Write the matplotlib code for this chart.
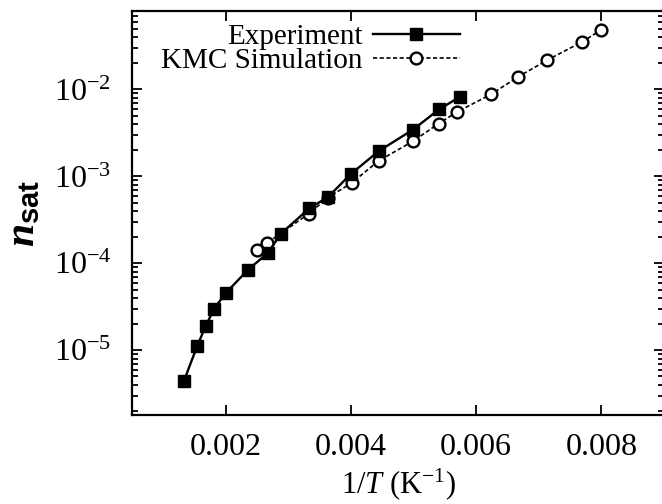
import matplotlib
matplotlib.use("Agg")
import matplotlib.pyplot as plt
from matplotlib.ticker import LogLocator, NullFormatter

# данные: 1/T (1/K) и n_sat
exp_x = [0.001329, 0.001542, 0.001676, 0.001813, 0.002000, 0.002356, 0.002676,
         0.002874, 0.003331, 0.003634, 0.003992, 0.004444, 0.004992, 0.005403, 0.005735]
exp_y = [4.43e-6, 1.12e-5, 1.89e-5, 3.02e-5, 4.56e-5, 8.49e-5, 1.32e-4,
         2.18e-4, 4.28e-4, 5.81e-4, 1.06e-3, 1.96e-3, 3.46e-3, 5.89e-3, 8.2e-3]

kmc_x = [0.002495, 0.00266, 0.00333, 0.00363, 0.00401, 0.00444, 0.00499,
         0.0054, 0.0057, 0.00624, 0.00667, 0.00713, 0.00769, 0.00799]
kmc_y = [1.42e-4, 1.72e-4, 3.74e-4, 5.72e-4, 8.41e-4, 1.51e-3, 2.54e-3,
         4.06e-3, 5.55e-3, 8.83e-3, 1.40e-2, 2.17e-2, 3.53e-2, 4.81e-2]

x_ticks = [0.002, 0.004, 0.006, 0.008]
x_tick_labels = ['0.002', '0.004', '0.006', '0.008']

plt.rcParams['font.family'] = ['Liberation Serif', 'DejaVu Serif']
plt.rcParams['mathtext.fontset'] = 'custom'
plt.rcParams['mathtext.rm'] = 'Liberation Serif'
plt.rcParams['mathtext.it'] = 'Liberation Serif:italic'
plt.rcParams['mathtext.bf'] = 'Liberation Serif:bold'
plt.rcParams['mathtext.bfit'] = 'Liberation Serif:italic:bold'
plt.rcParams['mathtext.sf'] = 'Liberation Sans:bold'

fig = plt.figure(figsize=(6.62, 5.04), dpi=100)
ax = fig.add_axes([132 / 662, 89 / 504, (664 - 132) / 662, (415 - 11) / 504])

ax.plot(kmc_x, kmc_y, linestyle=(0, (2.5, 1.5)), color='black', linewidth=1.2,
        marker='o', markersize=8.5, markerfacecolor='white', markeredgewidth=1.7,
        markeredgecolor='black', label='KMC Simulation', zorder=2)
ax.plot(exp_x, exp_y, linestyle='-', color='black', linewidth=1.7,
        marker='s', markersize=9, markerfacecolor='black',
        label='Experiment', zorder=3)

ax.set_yscale('log')
ax.set_xlim(0.0005, 0.009)
ax.set_ylim(1.8e-6, 0.08)

ax.set_xticks(x_ticks)
ax.set_xticklabels(x_tick_labels)
ax.yaxis.set_major_locator(LogLocator(base=10, numticks=20))
ax.yaxis.set_minor_locator(LogLocator(base=10, subs=range(2, 10), numticks=20))
ax.yaxis.set_minor_formatter(NullFormatter())
ax.set_yticks([1e-5, 1e-4, 1e-3, 1e-2])

ax.tick_params(which='both', direction='in', top=True, right=True, labelsize=23, width=1.3)
ax.tick_params(which='major', length=7)
ax.tick_params(axis='y', which='major', pad=15)
ax.tick_params(axis='x', which='major', pad=13)
ax.tick_params(which='minor', length=4)
ax.tick_params(axis='x', which='minor', top=False, bottom=False)
for s in ax.spines.values():
    s.set_linewidth(1.6)

ax.set_xlabel(r'1/$\mathit{T}$ (K$^{-1}$)', fontsize=22, labelpad=3)
ax.set_ylabel(r'$\mathbfit{n}_{\mathsf{sat}}$', fontsize=30, labelpad=7)

handles, labels = ax.get_legend_handles_labels()
ax.legend(handles[::-1], labels[::-1], loc='upper right', frameon=False,
          markerfirst=False, fontsize=21, handlelength=3.0, handletextpad=0.35,
          labelspacing=-0.1, borderpad=0, borderaxespad=0,
          bbox_to_anchor=(460 / 662, 1 - 24 / 504), bbox_transform=fig.transFigure)

fig.savefig('out.png', dpi=100)
